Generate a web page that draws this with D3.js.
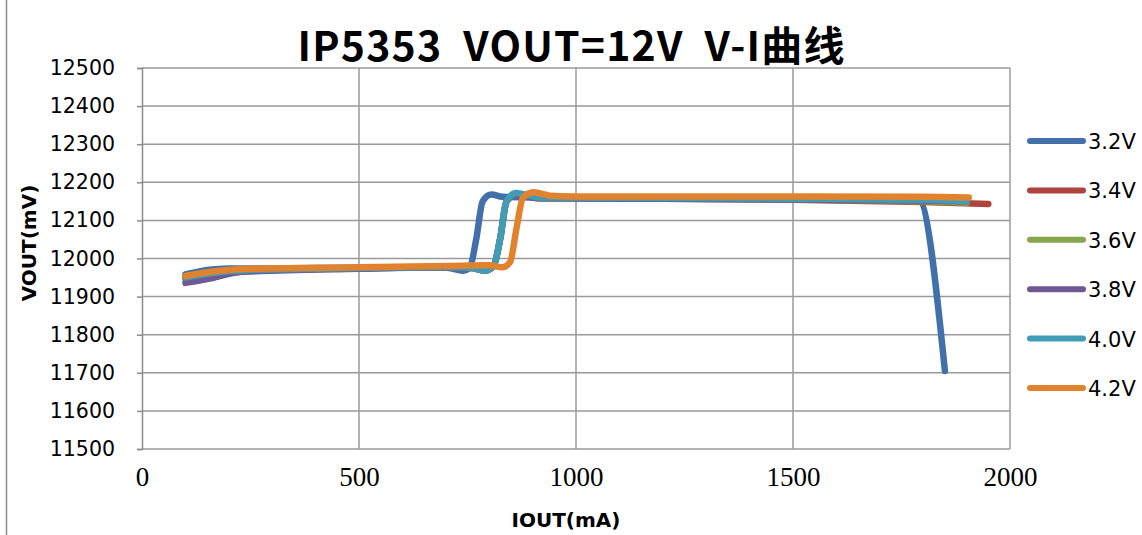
<!DOCTYPE html>
<html>
<head>
<meta charset="utf-8">
<script src="https://cdn.jsdelivr.net/npm/d3@7"></script>
<style>
  body { margin: 0; background: #fff; }
  svg { display: block; }
</style>
</head>
<body>
<div id="plot"></div>
<script>
// series names + colours (Excel 2007 style, a bit darker)
const seriesNames = ["3.2V", "3.4V", "3.6V", "3.8V", "4.0V", "4.2V"];
const seriesColors = ["#4170ab", "#ae4340", "#87a54c", "#6f5893", "#409db5", "#e1822f"];

// IOUT (mA) / VOUT (mV)
const iout32 = [100, 150, 200, 300, 500, 700, 740, 755, 770, 785, 805, 830, 900, 1200, 1500, 1790, 1850];
const vout32 = [11958, 11970, 11974, 11974, 11976, 11976, 11968, 11975, 12050, 12150, 12168, 12162, 12160, 12160, 12158, 12152, 11705];

const iout34 = [100, 150, 250, 500, 700, 760, 790, 810, 825, 840, 862, 882, 920, 1200, 1500, 1800, 1950];
const vout34 = [11948, 11958, 11968, 11974, 11977, 11975, 11968, 11980, 12050, 12150, 12168, 12164, 12158, 12157, 12154, 12148, 12143];

const iout36 = [100, 150, 250, 500, 700, 760, 790, 810, 825, 840, 862, 882, 920, 1200, 1500, 1800, 1900];
const vout36 = [11945, 11955, 11967, 11974, 11977, 11975, 11968, 11980, 12050, 12150, 12168, 12164, 12158, 12157, 12155, 12150, 12146];

const iout38 = [100, 150, 230, 500, 700, 760, 790, 810, 825, 840, 862, 882, 920, 1200, 1500, 1800, 1900];
const vout38 = [11936, 11946, 11965, 11973, 11977, 11975, 11968, 11980, 12050, 12150, 12168, 12164, 12158, 12157, 12155, 12152, 12150];

const iout40 = [100, 150, 250, 500, 700, 760, 790, 810, 825, 840, 862, 882, 920, 1200, 1500, 1800, 1900];
const vout40 = [11950, 11960, 11970, 11975, 11978, 11975, 11968, 11980, 12050, 12150, 12172, 12168, 12160, 12159, 12157, 12154, 12151];

const iout42 = [100, 150, 250, 500, 700, 800, 830, 848, 863, 878, 902, 940, 1000, 1200, 1500, 1800, 1905];
const vout42 = [11954, 11964, 11973, 11977, 11980, 11982, 11977, 11990, 12080, 12160, 12174, 12165, 12163, 12163, 12163, 12162, 12160];

const yTicks = [11500, 11600, 11700, 11800, 11900, 12000, 12100, 12200, 12300, 12400, 12500];
const xTicks = [0, 500, 1000, 1500, 2000];

const seriesI = [iout32, iout34, iout36, iout38, iout40, iout42];
const seriesV = [vout32, vout34, vout36, vout38, vout40, vout42];

const width = 1142;
const height = 535;
const plot = { left: 142, right: 1010, top: 68, bottom: 449 };

const svg = d3.select("#plot").append("svg")
  .attr("width", width)
  .attr("height", height);

svg.append("rect").attr("width", width).attr("height", height).attr("fill", "#fff");

// outer chart frame (only the left edge shows in the crop)
svg.append("line")
  .attr("x1", 6.5).attr("x2", 6.5).attr("y1", 0).attr("y2", height)
  .attr("stroke", "#8c8c8c").attr("stroke-width", 1.5);

const x = d3.scaleLinear().domain([0, 2000]).range([plot.left, plot.right]);
const y = d3.scaleLinear().domain([11500, 12500]).range([plot.bottom, plot.top]);

// gridlines
svg.append("g")
  .selectAll("line")
  .data(yTicks)
  .join("line")
  .attr("x1", plot.left).attr("x2", plot.right)
  .attr("y1", d => y(d)).attr("y2", d => y(d))
  .attr("stroke", "#9a9a9a").attr("stroke-width", 1.5);

svg.append("g")
  .selectAll("line")
  .data(xTicks.slice(1))
  .join("line")
  .attr("x1", d => x(d)).attr("x2", d => x(d))
  .attr("y1", plot.top).attr("y2", plot.bottom)
  .attr("stroke", "#9a9a9a").attr("stroke-width", 1.5);

// y axis
const yAxis = svg.append("g")
  .attr("transform", `translate(${plot.left},0)`)
  .call(d3.axisLeft(y).tickValues(yTicks).tickSize(5).tickPadding(22).tickFormat(d3.format("d")));
yAxis.select(".domain").attr("stroke", "#8c8c8c").attr("stroke-width", 1.5);
yAxis.selectAll(".tick line").attr("stroke", "#8c8c8c").attr("stroke-width", 1.5);
yAxis.selectAll("text")
  .attr("font-family", "DejaVu Sans, sans-serif")
  .attr("font-size", 20.5)
  .attr("fill", "#000");

// x axis labels (serif in the original)
const xAxis = svg.append("g")
  .attr("transform", `translate(0,${plot.bottom})`)
  .call(d3.axisBottom(x).tickValues(xTicks).tickSize(0).tickPadding(18).tickFormat(d3.format("d")));
xAxis.select(".domain").remove();
xAxis.selectAll("text")
  .attr("font-family", "Liberation Serif, serif")
  .attr("font-size", 27)
  .attr("fill", "#000");

// lines
const line = d3.line()
  .x(d => x(d[0]))
  .y(d => y(d[1]))
  .curve(d3.curveMonotoneX);

seriesNames.forEach((name, i) => {
  const pts = seriesI[i].map((v, k) => [v, seriesV[i][k]]);
  svg.append("path")
    .datum(pts)
    .attr("d", line)
    .attr("fill", "none")
    .attr("stroke", seriesColors[i])
    .attr("stroke-width", 6.5)
    .attr("stroke-linecap", "round")
    .attr("stroke-linejoin", "round");
});

// legend
const legend = svg.append("g");
seriesNames.forEach((name, i) => {
  const ly = 141 + i * 49.4;
  legend.append("line")
    .attr("x1", 1030).attr("x2", 1083)
    .attr("y1", ly).attr("y2", ly)
    .attr("stroke", seriesColors[i])
    .attr("stroke-width", 6)
    .attr("stroke-linecap", "round");
  legend.append("text")
    .attr("x", 1088).attr("y", ly + 8)
    .attr("font-family", "DejaVu Sans, sans-serif")
    .attr("font-size", 21)
    .attr("fill", "#000")
    .text(name);
});

// titles (double spaces kept with nbsp)
svg.append("text")
  .attr("x", 571).attr("y", 61)
  .attr("text-anchor", "middle")
  .attr("font-family", "Noto Sans CJK SC, sans-serif")
  .attr("font-weight", "bold")
  .attr("font-size", 41)
  .attr("textLength", 547)
  .attr("lengthAdjust", "spacing")
  .attr("fill", "#000")
  .text("IP5353\u00A0\u00A0VOUT=12V\u00A0\u00A0V-I曲线");

svg.append("text")
  .attr("x", 566).attr("y", 527)
  .attr("text-anchor", "middle")
  .attr("font-family", "DejaVu Sans, sans-serif")
  .attr("font-weight", "bold")
  .attr("font-size", 20)
  .attr("fill", "#000")
  .text("IOUT(mA)");

svg.append("text")
  .attr("transform", "translate(36,243) rotate(-90)")
  .attr("text-anchor", "middle")
  .attr("font-family", "DejaVu Sans, sans-serif")
  .attr("font-weight", "bold")
  .attr("font-size", 20)
  .attr("fill", "#000")
  .text("VOUT(mV)");
</script>
</body>
</html>
